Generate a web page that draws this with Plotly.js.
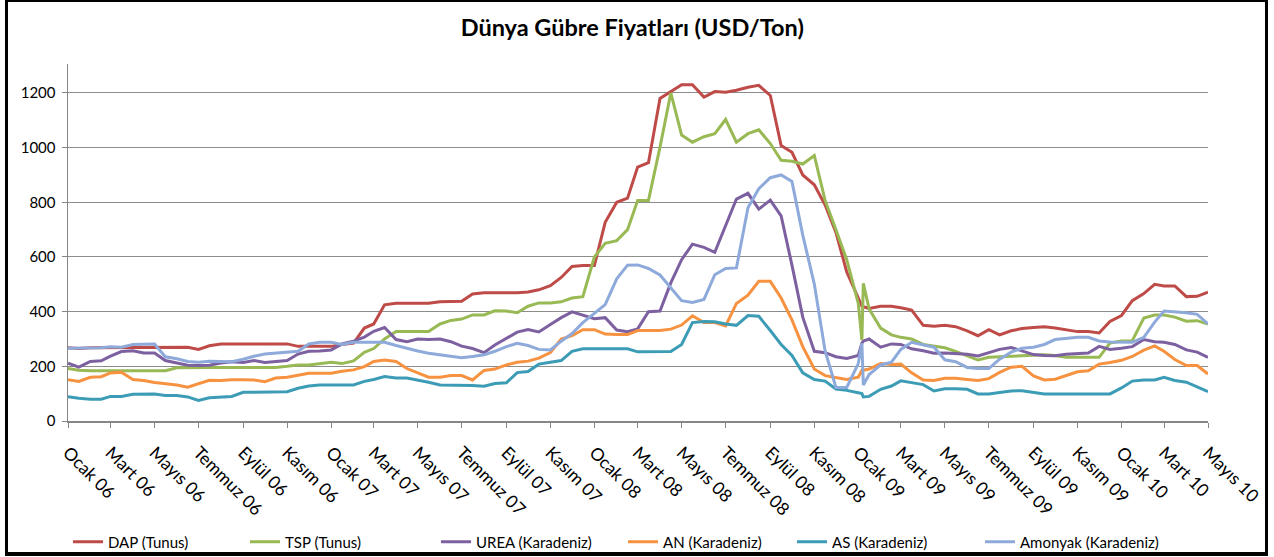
<!DOCTYPE html>
<html>
<head>
<meta charset="utf-8">
<script src="https://cdn.plot.ly/plotly-3.0.1.min.js"></script>
<style>
  html, body { margin: 0; padding: 0; background: #ffffff; }
  #wrap { position: relative; width: 1274px; height: 557px; }
  #chart { position: absolute; left: 0; top: 0; width: 1274px; height: 557px; }
  #frame { position: absolute; left: 5px; top: 0px; width: 1263px; height: 556px; box-sizing: border-box;
           border-left: 3px solid #000; border-top: 2px solid #000; border-right: 3px solid #000; border-bottom: 4px solid #000;
           pointer-events: none; }
</style>
</head>
<body>
<div id="wrap">
  <div id="chart"></div>
  <div id="frame"></div>
</div>
<script>
// Semi-monthly observation dates (two extra early-January 2009 points)
const dates = [
  '2006-01-01','2006-01-16','2006-02-01','2006-02-16','2006-03-01','2006-03-16','2006-04-01','2006-04-16','2006-05-01','2006-05-16','2006-06-01','2006-06-16',
  '2006-07-01','2006-07-16','2006-08-01','2006-08-16','2006-09-01','2006-09-16','2006-10-01','2006-10-16','2006-11-01','2006-11-16','2006-12-01','2006-12-16',
  '2007-01-01','2007-01-16','2007-02-01','2007-02-16','2007-03-01','2007-03-16','2007-04-01','2007-04-16','2007-05-01','2007-05-16','2007-06-01','2007-06-16',
  '2007-07-01','2007-07-16','2007-08-01','2007-08-16','2007-09-01','2007-09-16','2007-10-01','2007-10-16','2007-11-01','2007-11-16','2007-12-01','2007-12-16',
  '2008-01-01','2008-01-16','2008-02-01','2008-02-16','2008-03-01','2008-03-16','2008-04-01','2008-04-16','2008-05-01','2008-05-16','2008-06-01','2008-06-16',
  '2008-07-01','2008-07-16','2008-08-01','2008-08-16','2008-09-01','2008-09-16','2008-10-01','2008-10-16','2008-11-01','2008-11-16','2008-12-01','2008-12-16',
  '2009-01-01','2009-01-06','2009-01-08','2009-01-16','2009-02-01','2009-02-16','2009-03-01','2009-03-16','2009-04-01','2009-04-16','2009-05-01','2009-05-16','2009-06-01','2009-06-16',
  '2009-07-01','2009-07-16','2009-08-01','2009-08-16','2009-09-01','2009-09-16','2009-10-01','2009-10-16','2009-11-01','2009-11-16','2009-12-01','2009-12-16',
  '2010-01-01','2010-01-16','2010-02-01','2010-02-16','2010-03-01','2010-03-16','2010-04-01','2010-04-16','2010-05-01'
];

const dap = [
  268,265,268,268,268,268,270,270,270,270,270,270, 262,275,282,282,282,282,282,282,282,273,273,273,
  273,280,285,340,355,425,431,431,431,431,436,438, 438,465,469,469,469,469,472,480,495,525,565,569,
  569,727,800,815,929,945,1180,1204,1230,1230,1185,1205, 1203,1210,1221,1228,1191,1008,983,900,864,790,690,545,
  450,420,418,412,420,420,414,406,350,347,350,345,330,312, 334,315,330,338,342,345,340,335,327,327,322,364,
  386,440,466,500,494,494,455,456,471
];

const tsp = [
  192,186,184,184,184,184,184,184,184,184,195,196, 196,196,196,196,196,196,196,196,200,205,205,210,
  215,210,220,251,265,300,327,327,327,327,355,368, 373,388,388,403,402,396,420,432,432,436,450,455,
  600,650,660,700,807,807,1002,1200,1046,1020,1040,1051, 1103,1020,1051,1065,1015,954,950,940,971,807,700,590,
  430,296,504,410,340,315,306,300,280,274,268,255,240,223, 233,235,237,240,242,242,240,233,233,233,233,285,
  293,294,377,388,388,380,365,367,355
];

const urea = [
  212,197,218,220,237,254,257,249,249,221,212,204, 203,204,212,217,214,221,214,217,221,245,255,256,
  260,282,292,307,328,342,298,290,300,298,300,290, 274,265,250,278,303,325,335,326,353,378,399,386,
  374,378,333,327,337,400,402,505,590,647,635,617, 715,812,833,775,808,750,570,380,255,250,235,229,
  240,285,292,300,270,282,280,264,257,248,249,247,244,238, 251,262,269,256,243,240,239,244,248,249,273,262,
  266,272,298,290,288,280,260,252,233
];

const an = [
  151,145,160,162,176,178,152,148,141,137,132,124, 136,149,148,151,151,150,144,157,160,168,175,175,
  175,182,187,199,218,223,218,192,176,160,160,166, 166,150,185,190,205,215,219,230,250,300,312,334,
  334,318,316,316,331,331,331,336,351,385,360,360, 348,430,460,511,511,450,370,272,190,166,160,152,
  160,185,186,190,210,207,208,176,150,148,156,156,152,148, 155,178,197,200,165,150,153,165,180,184,208,214,
  222,236,259,275,255,225,203,203,172
];

const asKaradeniz = [
  89,83,80,80,90,90,98,99,99,93,93,88, 75,85,87,90,105,105,106,106,107,120,128,132,
  132,134,132,145,152,163,157,157,150,142,132,132, 132,130,127,137,140,177,181,208,215,221,255,264,
  264,264,264,264,253,254,254,254,280,360,364,363, 355,350,386,383,331,280,240,176,152,146,117,112,
  103,100,88,90,116,128,147,141,133,110,118,118,116,99, 99,104,110,111,105,99,99,99,99,99,99,99,
  121,146,150,150,160,148,142,124,107
];

const amonyak = [
  266,266,266,268,272,270,280,282,282,235,228,218, 215,219,217,217,226,237,245,249,251,255,282,288,
  288,280,288,288,288,288,276,265,256,248,243,236, 231,236,242,255,272,284,276,262,260,292,320,360,
  395,426,520,570,571,558,534,485,440,434,445,535, 558,560,780,850,890,900,876,680,501,256,123,123,
  210,284,132,170,205,215,262,288,278,270,224,217,196,192, 192,226,252,266,270,280,298,303,306,306,293,289,
  288,288,306,362,402,400,396,390,355
];

const seriesNames = ['DAP (Tunus)','TSP (Tunus)','UREA (Karadeniz)','AN (Karadeniz)','AS (Karadeniz)','Amonyak (Karadeniz)'];
const seriesColors = ['#BE4B48','#98B954','#7D60A0','#F69240','#3D9CB5','#8EAADB'];
const seriesValues = [dap, tsp, urea, an, asKaradeniz, amonyak];
const legendWidths = [132, 146, 142, 124, 143, 140];

const tickDates = [
  '2006-01-01','2006-03-01','2006-05-01','2006-07-01','2006-09-01','2006-11-01',
  '2007-01-01','2007-03-01','2007-05-01','2007-07-01','2007-09-01','2007-11-01',
  '2008-01-01','2008-03-01','2008-05-01','2008-07-01','2008-09-01','2008-11-01',
  '2009-01-01','2009-03-01','2009-05-01','2009-07-01','2009-09-01','2009-11-01',
  '2010-01-01','2010-03-01','2010-05-01'
];
const tickLabels = [
  'Ocak 06','Mart 06','Mayıs 06','Temmuz 06','Eylül 06','Kasım 06',
  'Ocak 07','Mart 07','Mayıs 07','Temmuz 07','Eylül 07','Kasım 07',
  'Ocak 08','Mart 08','Mayıs 08','Temmuz 08','Eylül 08','Kasım 08',
  'Ocak 09','Mart 09','Mayıs 09','Temmuz 09','Eylül 09','Kasım 09',
  'Ocak 10','Mart 10','Mayıs 10'
];
const yTicks = [0, 200, 400, 600, 800, 1000, 1200];

const FONT = 'Lato, "Open Sans", sans-serif';

const traces = seriesValues.map((vals, i) => ({
  type: 'scatter',
  mode: 'lines',
  name: seriesNames[i],
  x: dates,
  y: vals,
  line: { color: seriesColors[i], width: 3 },
  legendwidth: legendWidths[i],
  hoverinfo: 'skip'
}));

const layout = {
  width: 1274,
  height: 557,
  margin: { l: 68, r: 66, t: 64, b: 136, pad: 0, autoexpand: false },
  paper_bgcolor: '#ffffff',
  plot_bgcolor: '#ffffff',
  showlegend: true,
  title: {
    text: '<b>Dünya Gübre Fiyatları (USD/Ton)</b>',
    font: { family: FONT, size: 23.5, color: '#000000' },
    x: 0.495, xanchor: 'center', xref: 'paper',
    y: 0.95, yanchor: 'middle', yref: 'container'
  },
  xaxis: {
    type: 'date',
    range: ['2006-01-01', '2010-05-01'],
    tickmode: 'array',
    tickvals: tickDates,
    ticktext: tickLabels,
    tickangle: 45,
    ticks: 'outside', ticklen: 5, tickwidth: 1, tickcolor: '#868686',
    showline: true, linecolor: '#868686', linewidth: 1.5,
    showgrid: false, zeroline: false,
    automargin: false,
    ticklabelstandoff: 8,
    tickfont: { family: FONT, size: 17.5, color: '#000000' },
    fixedrange: true
  },
  yaxis: {
    range: [0, 1306],
    tickmode: 'array',
    tickvals: yTicks,
    ticks: 'outside', ticklen: 5, tickwidth: 1, tickcolor: '#868686',
    showline: true, linecolor: '#868686', linewidth: 1.5,
    showgrid: true, gridcolor: '#8c8c8c', gridwidth: 1,
    zeroline: false,
    automargin: false,
    ticklabelstandoff: 3,
    tickfont: { family: FONT, size: 15, color: '#000000' },
    fixedrange: true
  },
  legend: {
    orientation: 'h',
    x: 0.0, xanchor: 'left',
    y: -0.339, yanchor: 'middle',
    font: { family: FONT, size: 15, color: '#000000' },
    itemwidth: 30,
    bgcolor: 'rgba(0,0,0,0)',
    traceorder: 'normal'
  }
};

Plotly.newPlot('chart', traces, layout, { staticPlot: true, displayModeBar: false });
</script>
</body>
</html>
